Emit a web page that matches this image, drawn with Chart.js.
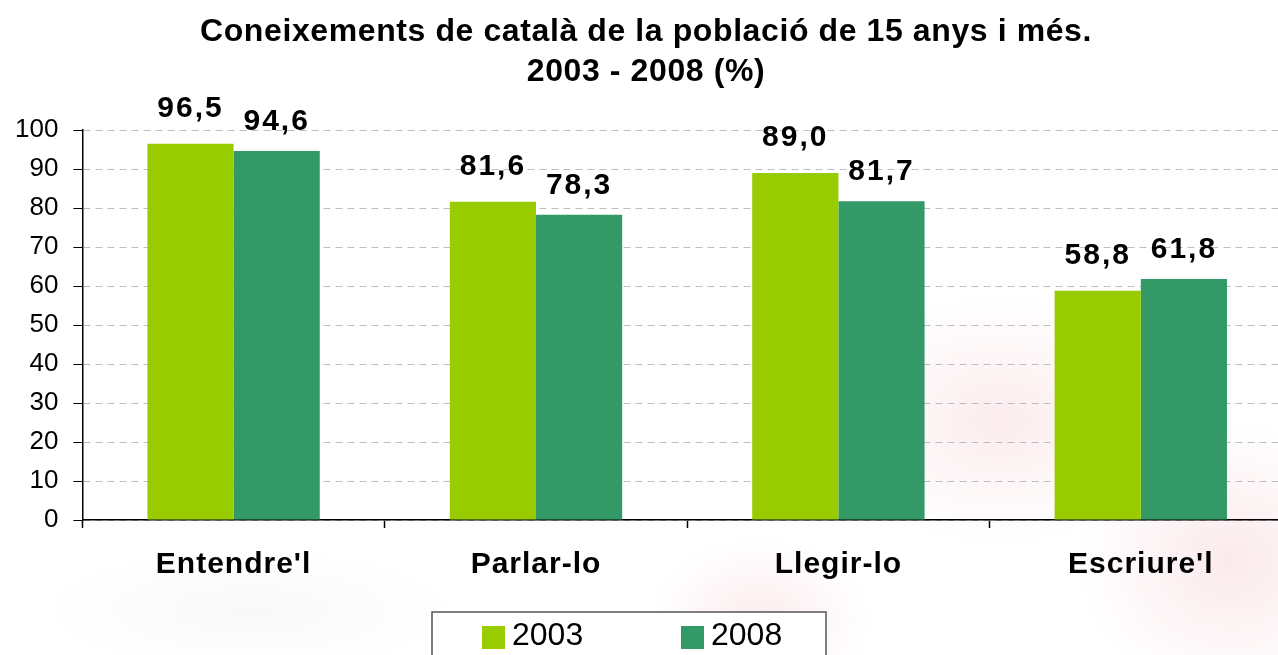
<!DOCTYPE html>
<html>
<head>
<meta charset="utf-8">
<script src="https://cdn.jsdelivr.net/npm/chart.js@4"></script>
<style>
  html, body { margin: 0; padding: 0; overflow: hidden; }
  body {
    width: 1278px; height: 655px;
    background:
      radial-gradient(ellipse 260px 180px at 1000px 420px, rgba(240,170,180,0.22), rgba(240,170,180,0) 70%),
      radial-gradient(ellipse 220px 200px at 1230px 560px, rgba(240,170,180,0.25), rgba(240,170,180,0) 70%),
      radial-gradient(ellipse 160px 120px at 760px 620px, rgba(240,170,180,0.22), rgba(240,170,180,0) 70%),
      radial-gradient(ellipse 300px 90px at 250px 610px, rgba(200,200,200,0.12), rgba(200,200,200,0) 70%),
      #ffffff;
  }
  #wrap { position: relative; width: 1292px; height: 655px; }
</style>
</head>
<body>
<div id="wrap"><canvas id="c"></canvas></div>
<script>
const categories = ["Entendre'l", "Parlar-lo", "Llegir-lo", "Escriure'l"];
const seriesNames = ["2003", "2008"];
const values2003 = [96.5, 81.6, 89.0, 58.8];
const values2008 = [94.6, 78.3, 81.7, 61.8];
const titleLines = ["Coneixements de català de la població de 15 anys i més.", "2003 - 2008 (%)"];
const yTicks = [0, 10, 20, 30, 40, 50, 60, 70, 80, 90, 100];

const colors = ["#99CC00", "#339966"];
const FONT = "'Liberation Sans', Arial, sans-serif";

// letter-spaced text for title and category labels (as in the original rendering)
const spacing = {
  id: 'spacing',
  beforeDraw(chart) {
    const xs = chart.scales.x;
    if (xs && !xs._lsPatched) {
      const orig = xs.drawLabels;
      xs.drawLabels = function (a) {
        const c = this.ctx; c.save(); c.letterSpacing = '1px'; orig.call(this, a); c.restore();
      };
      xs._lsPatched = true;
    }
    const tb = chart.titleBlock;
    if (tb && !tb._lsPatched) {
      const origT = tb.draw;
      tb.draw = function () {
        const c = this.ctx; c.save(); c.letterSpacing = '0.6px'; origT.apply(this, arguments); c.restore();
      };
      tb._lsPatched = true;
    }
  }
};

const valueLabels = {
  id: 'valueLabels',
  afterDatasetsDraw(chart) {
    const ctx = chart.ctx;
    const lift = [27, 21];
    ctx.save();
    ctx.font = "bold 30px " + FONT;
    ctx.letterSpacing = '2px';
    ctx.fillStyle = "#000";
    ctx.textAlign = "center";
    ctx.textBaseline = "alphabetic";
    chart.data.datasets.forEach((ds, di) => {
      const meta = chart.getDatasetMeta(di);
      meta.data.forEach((bar, i) => {
        const txt = ds.data[i].toFixed(1).replace('.', ',');
        ctx.fillText(txt, bar.x, bar.y - lift[di]);
      });
    });
    ctx.restore();
  }
};

const boxLegend = {
  id: 'boxLegend',
  afterDraw(chart) {
    const ctx = chart.ctx;
    const left = 432, right = 826, top = 612;
    ctx.save();
    ctx.fillStyle = "#ffffff";
    ctx.fillRect(left, top, right - left, 60);
    ctx.strokeStyle = "#555";
    ctx.lineWidth = 1.5;
    ctx.strokeRect(left, top, right - left, 60);
    ctx.font = "32px " + FONT;
    ctx.textAlign = "left";
    ctx.textBaseline = "middle";
    chart.data.datasets.forEach((ds, i) => {
      const bx = 482 + i * 199;
      ctx.fillStyle = ds.backgroundColor;
      ctx.fillRect(bx, 626, 23, 23);
      ctx.fillStyle = "#000";
      ctx.fillText(ds.label, bx + 30, 636);
    });
    ctx.restore();
  }
};

new Chart(document.getElementById('c'), {
  type: 'bar',
  data: {
    labels: categories,
    datasets: [
      { label: seriesNames[0], data: values2003, backgroundColor: colors[0], borderWidth: 0 },
      { label: seriesNames[1], data: values2008, backgroundColor: colors[1], borderWidth: 0 }
    ]
  },
  options: {
    responsive: true,
    maintainAspectRatio: false,
    animation: false,
    devicePixelRatio: 1,
    datasets: { bar: { categoryPercentage: 0.57, barPercentage: 1.0 } },
    layout: { padding: { left: 0, right: 0, top: 0, bottom: 53 } },
    plugins: {
      tooltip: { enabled: false },
      legend: { display: false },
      title: {
        display: true,
        text: titleLines,
        color: "#000",
        font: { family: FONT, size: 32, weight: 'bold', lineHeight: 1.25 },
        padding: { top: 12, bottom: 38 }
      }
    },
    scales: {
      x: {
        grid: { display: true, drawOnChartArea: false, drawTicks: true, tickLength: 8, tickColor: "#000", tickWidth: 1.5, offset: true },
        border: { display: true, color: "#000", width: 1.5 },
        ticks: { color: "#000", font: { family: FONT, size: 30, weight: 'bold' }, padding: 19 }
      },
      y: {
        min: 0,
        max: 100,
        afterBuildTicks(scale) { scale.ticks = yTicks.map(v => ({ value: v })); },
        grid: { color: "#bdbdbd", lineWidth: 1, tickColor: "#000", tickLength: 9, tickBorderDash: [] },
        border: { display: true, color: "#000", width: 1.5, dash: [7, 5] },
        ticks: { color: "#000", font: { family: FONT, size: 26 }, padding: 15 }
      }
    }
  },
  plugins: [spacing, valueLabels, boxLegend]
});
</script>
</body>
</html>
